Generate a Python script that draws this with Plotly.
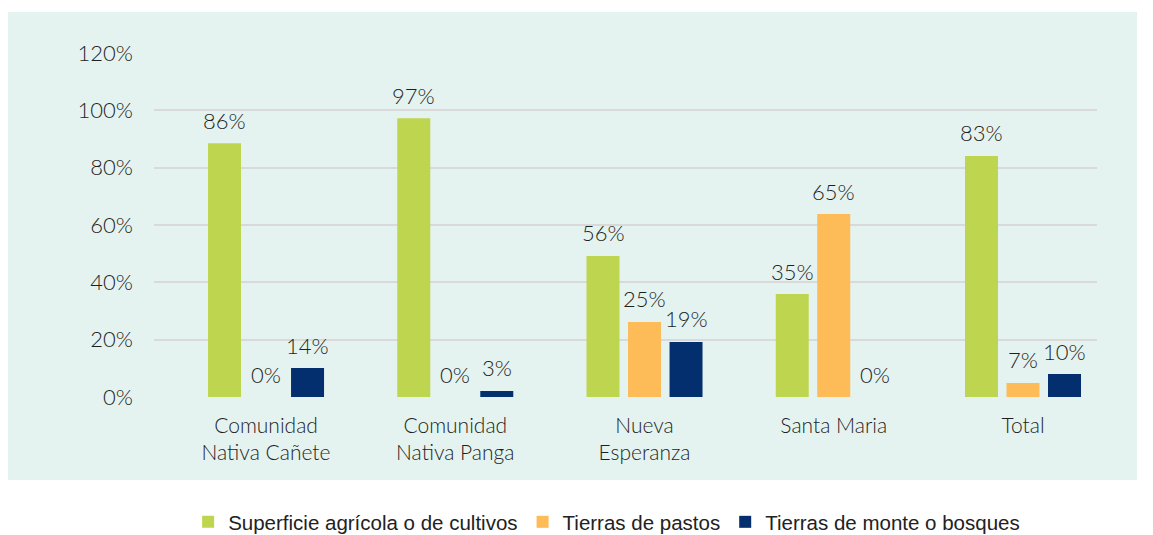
import plotly.graph_objects as go

categories = ["Comunidad<br>Nativa Cañete", "Comunidad<br>Nativa Panga", "Nueva<br>Esperanza", "Santa Maria", "Total"]
series_names = ["Superficie agrícola o de cultivos", "Tierras de pastos", "Tierras de monte o bosques"]
# bar heights as drawn
agricola = [88.5, 97.2, 49.2, 35.9, 84.1]
pastos = [0, 0, 26.2, 63.8, 4.9]
monte = [10.1, 2.1, 19.2, 0, 8.0]
# data labels as printed
agricola_lbl = ["86%", "97%", "56%", "35%", "83%"]
pastos_lbl = ["0%", "0%", "25%", "65%", "7%"]
monte_lbl = ["14%", "3%", "19%", "0%", "10%"]
y_ticks = [0, 20, 40, 60, 80, 100, 120]
y_tick_text = ["0%", "20%", "40%", "60%", "80%", "100%", "120%"]

colors = ["#bed64f", "#fdbc57", "#032f6e"]
values = [agricola, pastos, monte]
labels = [agricola_lbl, pastos_lbl, monte_lbl]

W, H = 1153, 535
L, R, T, B = 154, 56, 53, 138
pw, ph = W - L - R, H - T - B
TXT = "#1f1f1f"
FONT = "Lato"
BARGAP, GROUPGAP = 0.342, 0.205
X_RANGE = [-0.592, 4.391]

fig = go.Figure()
for name, vals, col in zip(series_names, values, colors):
    fig.add_trace(go.Bar(x=categories, y=vals, name=name, marker=dict(color=col, line=dict(width=0))))

cat_px = pw / (X_RANGE[1] - X_RANGE[0])
slot = cat_px * (1 - BARGAP) / 3
annotations = []
for i, lbls in enumerate(labels):
    for c, v, t in zip(categories, values[i], lbls):
        annotations.append(dict(x=c, y=v, text=t, showarrow=False, xshift=(i - 1) * slot,
                                yshift=23, yanchor="middle", xanchor="center",
                                font=dict(family=FONT, size=22, color=TXT, weight=300)))

fig.update_layout(
    width=W, height=H,
    margin=dict(l=L, r=R, t=T, b=B, pad=0, autoexpand=False),
    paper_bgcolor="white", plot_bgcolor="rgba(0,0,0,0)",
    barmode="group", bargap=BARGAP, bargroupgap=GROUPGAP,
    font=dict(family=FONT, size=22, color=TXT, weight=300),
    showlegend=True,
    legend=dict(orientation="h", x=0.48, xanchor="center", y=(397 - 522) / ph, yanchor="middle",
                font=dict(family="Liberation Sans, Arial, sans-serif", size=20.5, color="#222222"),
                itemwidth=30, traceorder="normal", bgcolor="rgba(0,0,0,0)"),
    annotations=annotations,
    shapes=[dict(type="rect", xref="paper", yref="paper",
                 x0=(8 - L) / pw, x1=(1137 - L) / pw, y0=(397 - 480) / ph, y1=(397 - 12) / ph,
                 fillcolor="#e5f3f0", line=dict(width=0), layer="below")],
)
fig.update_xaxes(range=X_RANGE, showgrid=False, showline=False, zeroline=False, ticks="", automargin=False,
                 tickfont=dict(size=21, weight=300), ticklabelstandoff=14)
fig.update_yaxes(range=[0, 120], tickvals=y_ticks, ticktext=y_tick_text, showgrid=True,
                 gridcolor="#d9d9d9", gridwidth=2, zeroline=False, showline=False, automargin=False,
                 ticks="", ticklabelstandoff=20, tickfont=dict(size=22, weight=300))

fig.write_html("out.html", config={"displayModeBar": False},
               post_script="document.body.style.margin='0';document.body.style.overflow='hidden';")
